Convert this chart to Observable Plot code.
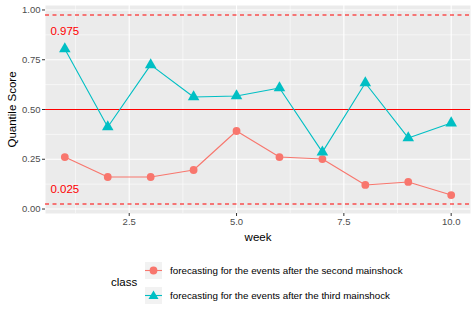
<!DOCTYPE html>
<html>
<head>
<meta charset="utf-8">
<script src="https://cdn.jsdelivr.net/npm/d3@7"></script>
<script src="https://cdn.jsdelivr.net/npm/@observablehq/plot@0.6"></script>
<style>
  body { margin: 0; background: #fff; font-family: "Liberation Sans", Arial, sans-serif; }
  #chart { position: relative; width: 476px; height: 317px; }
</style>
</head>
<body>
<div id="chart"></div>
<script>
const weeks = [1, 2, 3, 4, 5, 6, 7, 8, 9, 10];
const classes = ["forecasting for the events after the second mainshock",
                 "forecasting for the events after the third mainshock"];
const secondScores = [0.261, 0.161, 0.161, 0.196, 0.392, 0.261, 0.251, 0.121, 0.136, 0.070];
const thirdScores  = [0.804, 0.412, 0.724, 0.563, 0.568, 0.608, 0.286, 0.633, 0.357, 0.432];
const dashedRefs = [0.025, 0.975];
const solidRefs = [0.5];
const refLabels = ["0.025", "0.975"];
const refLabelPos = [0.10, 0.895];
const xTicks = [2.5, 5, 7.5, 10];
const yTicks = [0, 0.25, 0.5, 0.75, 1];
const xMinor = [1.25, 3.75, 6.25, 8.75];
const yMinor = [0.125, 0.375, 0.625, 0.875];
const colors = ["#F8766D", "#00BFC4"];

const rows = [];
weeks.forEach((w, i) => rows.push({week: w, score: secondScores[i], cls: classes[0]}));
weeks.forEach((w, i) => rows.push({week: w, score: thirdScores[i], cls: classes[1]}));
const second = rows.filter(d => d.cls === classes[0]);
const third = rows.filter(d => d.cls === classes[1]);
const refLabelRows = refLabels.map((t, i) => ({t, y: refLabelPos[i], x: 1}));
const yGrid = yTicks.filter(v => !solidRefs.includes(v));

const W = 476, H = 245;
const plot = Plot.plot({
  width: W, height: H,
  marginLeft: 45, marginRight: 6, marginTop: 5, marginBottom: 32,
  style: {fontFamily: "Liberation Sans, Arial, sans-serif", background: "#fff"},
  x: {domain: [0.55, 10.45]},
  y: {domain: [-0.0225, 1.0225]},
  marks: [
    Plot.frame({fill: "#EBEBEB", stroke: null}),
    Plot.ruleX(xMinor, {stroke: "#fff", strokeWidth: 0.55}),
    Plot.ruleY(yMinor, {stroke: "#fff", strokeWidth: 0.55}),
    Plot.ruleX(xTicks, {stroke: "#fff", strokeWidth: 1.1}),
    Plot.ruleY(yGrid, {stroke: "#fff", strokeWidth: 1.1}),
    Plot.ruleY(dashedRefs, {y: d => d, stroke: "#FF0000", strokeWidth: 1.1, strokeDasharray: "4,3.5"}),
    Plot.ruleY(solidRefs, {y: d => d, stroke: "#FF0000", strokeWidth: 1.1}),
    Plot.text(refLabelRows, {x: "x", y: "y", text: "t", fill: "red", fontSize: 11.5}),
    Plot.line(second, {x: "week", y: "score", stroke: colors[0], strokeWidth: 1.1}),
    Plot.line(third, {x: "week", y: "score", stroke: colors[1], strokeWidth: 1.1}),
    Plot.dot(second, {x: "week", y: "score", fill: colors[0], r: 3.9, symbol: "circle"}),
    Plot.dot(third, {x: "week", y: "score", fill: colors[1], r: 4.3, symbol: "triangle"}),
    Plot.axisX(xTicks, {tickSize: 3, tickPadding: 2, stroke: "#333", fill: "#4D4D4D", fontSize: 9.5,
      tickFormat: d3.format(".1f"), label: "week", labelAnchor: "center", labelArrow: "none", labelOffset: 27}),
    Plot.axisY(yTicks, {tickSize: 3, tickPadding: 2, stroke: "#333", fill: "#4D4D4D", fontSize: 9.5,
      tickFormat: d3.format(".2f"), label: "Quantile Score", labelAnchor: "center", labelArrow: "none", labelOffset: 38})
  ]
});
d3.select(plot).selectAll("[aria-label='x-axis label'] text, [aria-label='y-axis label'] text")
  .attr("fill", "#000").style("font-size", "11.5px");
document.getElementById("chart").appendChild(plot);

// Legend
const legend = document.createElement("div");
legend.style.cssText = "position:relative;width:476px;height:72px;font-family:'Liberation Sans',Arial,sans-serif;";
let html = `<div style="position:absolute;left:111px;top:30px;font-size:11.5px;color:#000;line-height:14px;">class</div>`;
classes.forEach((c, i) => {
  const top = 17 + i * 25;
  const sym = i === 0
    ? `<circle cx="8.5" cy="8.5" r="3.9" fill="${colors[0]}"/>`
    : `<path d="M8.5,3.5 L13.5,12 L3.5,12 Z" fill="${colors[1]}"/>`;
  html += `<svg style="position:absolute;left:145px;top:${top}px" width="17" height="17">
    <rect width="17" height="17" fill="#F2F2F2"/>
    <line x1="0" y1="8.5" x2="17" y2="8.5" stroke="${colors[i]}" stroke-width="1.1"/>${sym}</svg>
    <div style="position:absolute;left:170px;top:${top + 2}px;font-size:9.8px;color:#000;line-height:13px;white-space:nowrap;">${c}</div>`;
});
legend.innerHTML = html;
document.getElementById("chart").appendChild(legend);
</script>
</body>
</html>
